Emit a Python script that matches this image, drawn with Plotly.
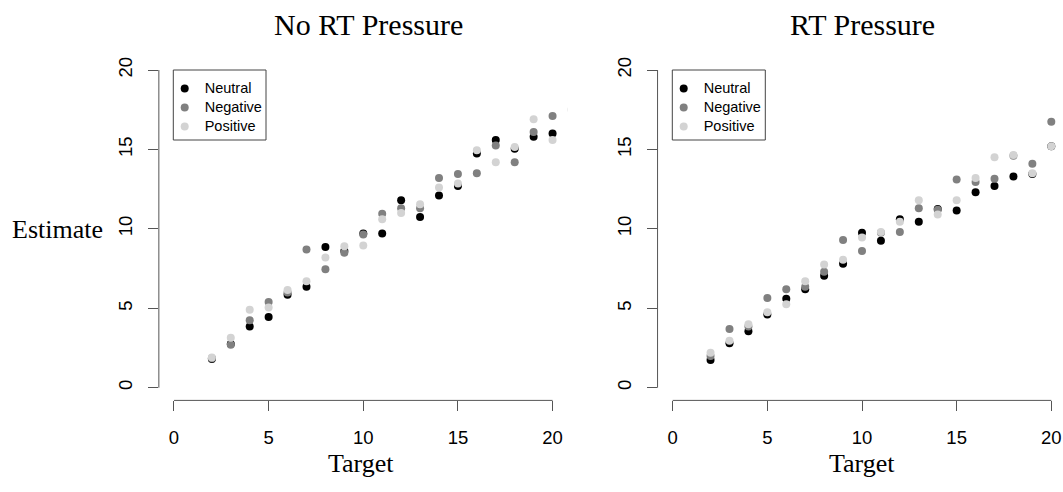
import plotly.graph_objects as go

# ---------------- data ----------------
targets = list(range(2, 21))
targets_pos_np = list(range(2, 22))

neutral_np = [1.8, 2.75, 3.85, 4.45, 5.85, 6.35, 8.85, 8.6, 9.7, 9.7,
              11.8, 10.75, 12.1, 12.7, 14.75, 15.6, 15.05, 15.8, 16.0]
negative_np = [1.85, 2.7, 4.25, 5.4, 6.0, 8.7, 7.45, 8.5, 9.65, 10.95,
               11.3, 11.3, 13.2, 13.45, 13.5, 15.25, 14.2, 16.1, 17.1]
positive_np = [1.9, 3.15, 4.9, 5.05, 6.15, 6.7, 8.2, 8.9, 8.95, 10.6,
               11.0, 11.55, 12.6, 12.85, 14.95, 14.2, 15.15, 16.9, 15.6, 17.5]

neutral_p = [1.75, 2.8, 3.55, 4.6, 5.6, 6.2, 7.05, 7.8, 9.75, 9.25,
             10.6, 10.45, 11.25, 11.15, 12.3, 12.7, 13.3, 13.45, 15.2]
negative_p = [2.0, 3.7, 3.85, 5.65, 6.2, 6.35, 7.3, 9.3, 8.6, 9.75,
              9.8, 11.3, 11.2, 13.1, 12.95, 13.15, 14.6, 14.1, 16.75]
positive_p = [2.2, 2.95, 4.0, 4.75, 5.25, 6.7, 7.75, 8.05, 9.45, 9.8,
              10.45, 11.8, 10.9, 11.8, 13.2, 14.5, 14.65, 13.5, 15.2]

series_names = ["Neutral", "Negative", "Positive"]
series_colors = ["#000000", "#808080", "#d3d3d3"]
panel_titles = ["No RT Pressure", "RT Pressure"]
tick_vals = [0, 5, 10, 15, 20]

# ---------------- layout geometry (pixels) ----------------
W, H = 1063, 492
def px_x(p):
    return p / W
def px_y(p):
    return 1 - p / H

left_dom = [px_x(158.85), px_x(567.7)]
right_dom = [px_x(657.55), 1.0]
y_dom = [px_y(400.4), px_y(57.3)]

fig = go.Figure()

panels = [
    ("x", "y", "legend", [(targets, neutral_np), (targets, negative_np), (targets_pos_np, positive_np)]),
    ("x2", "y2", "legend2", [(targets, neutral_p), (targets, negative_p), (targets, positive_p)]),
]
for xa, ya, lg, data in panels:
    for (xs, ys), name, col in zip(data, series_names, series_colors):
        fig.add_trace(go.Scatter(
            x=xs, y=ys, mode="markers",
            name='<span style="font-size:14.5px">%s</span>' % name,
            marker=dict(color=col, size=8, line=dict(width=0)),
            xaxis=xa, yaxis=ya, legend=lg, showlegend=True,
            cliponaxis=True, hoverinfo="skip",
        ))

tickfont = dict(family="Liberation Sans, Arial, sans-serif", size=18.5, color="#000")
axis_common = dict(
    showgrid=False, zeroline=False, showline=False,
    ticks="outside", ticklen=10, tickwidth=1, tickcolor="#555",
    tickvals=tick_vals, tickfont=tickfont, automargin=False,
    fixedrange=True,
)

legend_common = dict(
    xanchor="left", yanchor="top",
    bgcolor="rgba(0,0,0,0)", borderwidth=0,
    font=dict(family="Liberation Sans, Arial, sans-serif", size=12, color="#000"),
    tracegroupgap=0,
)

fig.update_layout(
    width=W, height=H,
    margin=dict(l=0, r=0, t=0, b=0),
    paper_bgcolor="white", plot_bgcolor="white",
    xaxis=dict(domain=left_dom, range=[-0.8, 20.8], anchor="y",
               ticklabelstandoff=10, **axis_common),
    yaxis=dict(domain=y_dom, range=[-0.8, 20.8], anchor="x",
               tickangle=-90, ticklabelstandoff=8, **axis_common),
    xaxis2=dict(domain=right_dom, range=[-0.8, (W - 672.7) / 18.93], anchor="y2",
                ticklabelstandoff=10, **axis_common),
    yaxis2=dict(domain=y_dom, range=[-0.8, 20.8], anchor="x2",
                tickangle=-90, ticklabelstandoff=8, **axis_common),
    legend=dict(x=px_x(164.7), y=px_y(74), **legend_common),
    legend2=dict(x=px_x(663.7), y=px_y(74), **legend_common),
    showlegend=True,
)

# axis lines spanning only the tick range (R style)
line_style = dict(color="#555", width=1)
for xa, ya in [("x", "y"), ("x2", "y2")]:
    xdom = left_dom if xa == "x" else right_dom
    fig.add_shape(type="line", xref=xa, yref="paper", x0=tick_vals[0], x1=tick_vals[-1],
                  y0=y_dom[0], y1=y_dom[0], line=line_style)
    fig.add_shape(type="line", xref="paper", yref=ya, x0=xdom[0], x1=xdom[0],
                  y0=tick_vals[0], y1=tick_vals[-1], line=line_style)

# legend boxes
for bx0, bx1 in [(173.3, 266.0), (672.3, 765.3)]:
    fig.add_shape(type="rect", xref="paper", yref="paper",
                  x0=px_x(bx0), x1=px_x(bx1), y0=px_y(140), y1=px_y(70),
                  line=dict(color="#444", width=1), fillcolor="rgba(0,0,0,0)")

serif = "Liberation Serif, Times New Roman, serif"
# panel titles
for title, cx in zip(panel_titles, [368.5, 862.5]):
    fig.add_annotation(text=title, xref="paper", yref="paper", x=px_x(cx), y=px_y(25),
                       xanchor="center", yanchor="middle", showarrow=False,
                       font=dict(family=serif, size=30, color="#000"))
# x axis titles
for cx in [361, 862]:
    fig.add_annotation(text="Target", xref="paper", yref="paper", x=px_x(cx), y=px_y(463),
                       xanchor="center", yanchor="middle", showarrow=False,
                       font=dict(family=serif, size=26, color="#000"))
# y axis title
fig.add_annotation(text="Estimate", xref="paper", yref="paper", x=px_x(57.5), y=px_y(229),
                   xanchor="center", yanchor="middle", showarrow=False,
                   font=dict(family=serif, size=26, color="#000"))

fig.write_html("out.html", config={"displayModeBar": False},
               post_script="document.body.style.margin='0px';")
